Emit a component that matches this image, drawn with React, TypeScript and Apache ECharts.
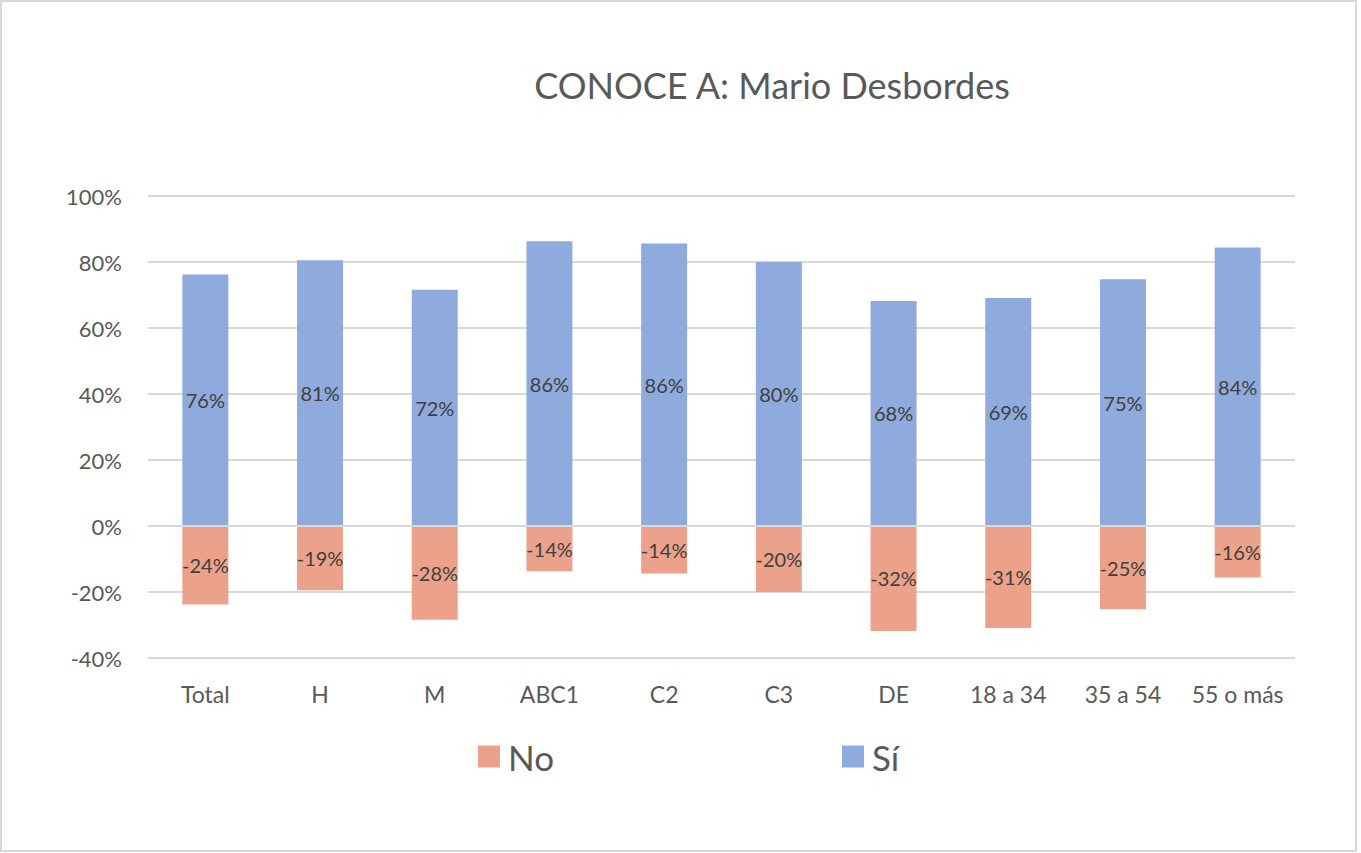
import React, { useEffect, useRef } from "react";
import * as echarts from "echarts";

const categories = ["Total", "H", "M", "ABC1", "C2", "C3", "DE", "18 a 34", "35 a 54", "55 o más"];
const siValues = [76.2, 80.5, 71.6, 86.3, 85.6, 80.0, 68.2, 69.1, 74.8, 84.4];
const noValues = [-23.8, -19.5, -28.4, -13.7, -14.4, -20.0, -31.8, -30.9, -25.2, -15.6];
const yTicks = { min: -40, max: 100, interval: 20 };

const FONT = "Lato";
const TXT = "#595959";

export default function App() {
  const ref = useRef<HTMLDivElement>(null);
  useEffect(() => {
    if (!ref.current) return;
    const chart = echarts.init(ref.current, undefined, { renderer: "svg" });
    const labelCfg = {
      show: true,
      position: "inside",
      color: "#404040",
      fontFamily: FONT,
      fontSize: 20,
      formatter: (p: any) => `${Math.round(p.value)}%`,
    };
    chart.setOption({
      animation: false,
      backgroundColor: "transparent",
      title: {
        text: "CONOCE A: Mario Desbordes",
        left: 767,
        top: 62,
        textAlign: "center",
        textStyle: { fontFamily: FONT, fontSize: 36, fontWeight: "normal", color: TXT },
      },
      legend: [
        {
          data: ["No"],
          left: 473,
          top: 734,
          itemWidth: 22,
          itemHeight: 22,
          icon: "rect",
          textStyle: { fontFamily: FONT, fontSize: 35, color: TXT, padding: [0, 0, 0, 3] },
        },
        {
          data: ["Sí"],
          left: 837,
          top: 734,
          itemWidth: 22,
          itemHeight: 22,
          icon: "rect",
          textStyle: { fontFamily: FONT, fontSize: 35, color: TXT, padding: [0, 0, 0, 3] },
        },
      ],
      grid: { left: 148, right: 66, top: 196, bottom: 195, containLabel: false },
      xAxis: {
        type: "category",
        data: categories,
        axisLine: { show: false },
        axisTick: { show: false },
        axisLabel: { color: TXT, fontFamily: FONT, fontSize: 23, margin: 24, interval: 0 },
      },
      yAxis: {
        type: "value",
        min: yTicks.min,
        max: yTicks.max,
        interval: yTicks.interval,
        axisLine: { show: false },
        axisTick: { show: false },
        axisLabel: { color: TXT, fontFamily: FONT, fontSize: 22, margin: 26, formatter: "{value}%" },
        splitLine: { lineStyle: { color: "#d9d9d9", width: 2 } },
      },
      series: [
        {
          name: "No",
          type: "bar",
          stack: "total",
          data: noValues,
          barWidth: 46,
          itemStyle: { color: "#eca28a" },
          label: labelCfg,
        },
        {
          name: "Sí",
          type: "bar",
          stack: "total",
          data: siValues,
          barWidth: 46,
          itemStyle: { color: "#8faadc" },
          label: labelCfg,
          markLine: {
            silent: true,
            symbol: "none",
            label: { show: false },
            lineStyle: { color: "#d9d9d9", width: 2, type: "solid" },
            data: [{ yAxis: 0 }],
          },
        },
      ],
    });
    return () => chart.dispose();
  }, []);
  return (
    <div
      style={{
        position: "absolute",
        left: 0,
        top: 0,
        width: 1361,
        height: 853,
        background: "#fff",
      }}
    >
      <div ref={ref} style={{ position: "absolute", left: 0, top: 0, width: 1361, height: 853 }} />
      <div
        style={{
          position: "absolute",
          left: 0,
          top: 0,
          width: 1357,
          height: 852,
          boxSizing: "border-box",
          border: "2px solid #d9d9d9",
          pointerEvents: "none",
        }}
      />
    </div>
  );
}
